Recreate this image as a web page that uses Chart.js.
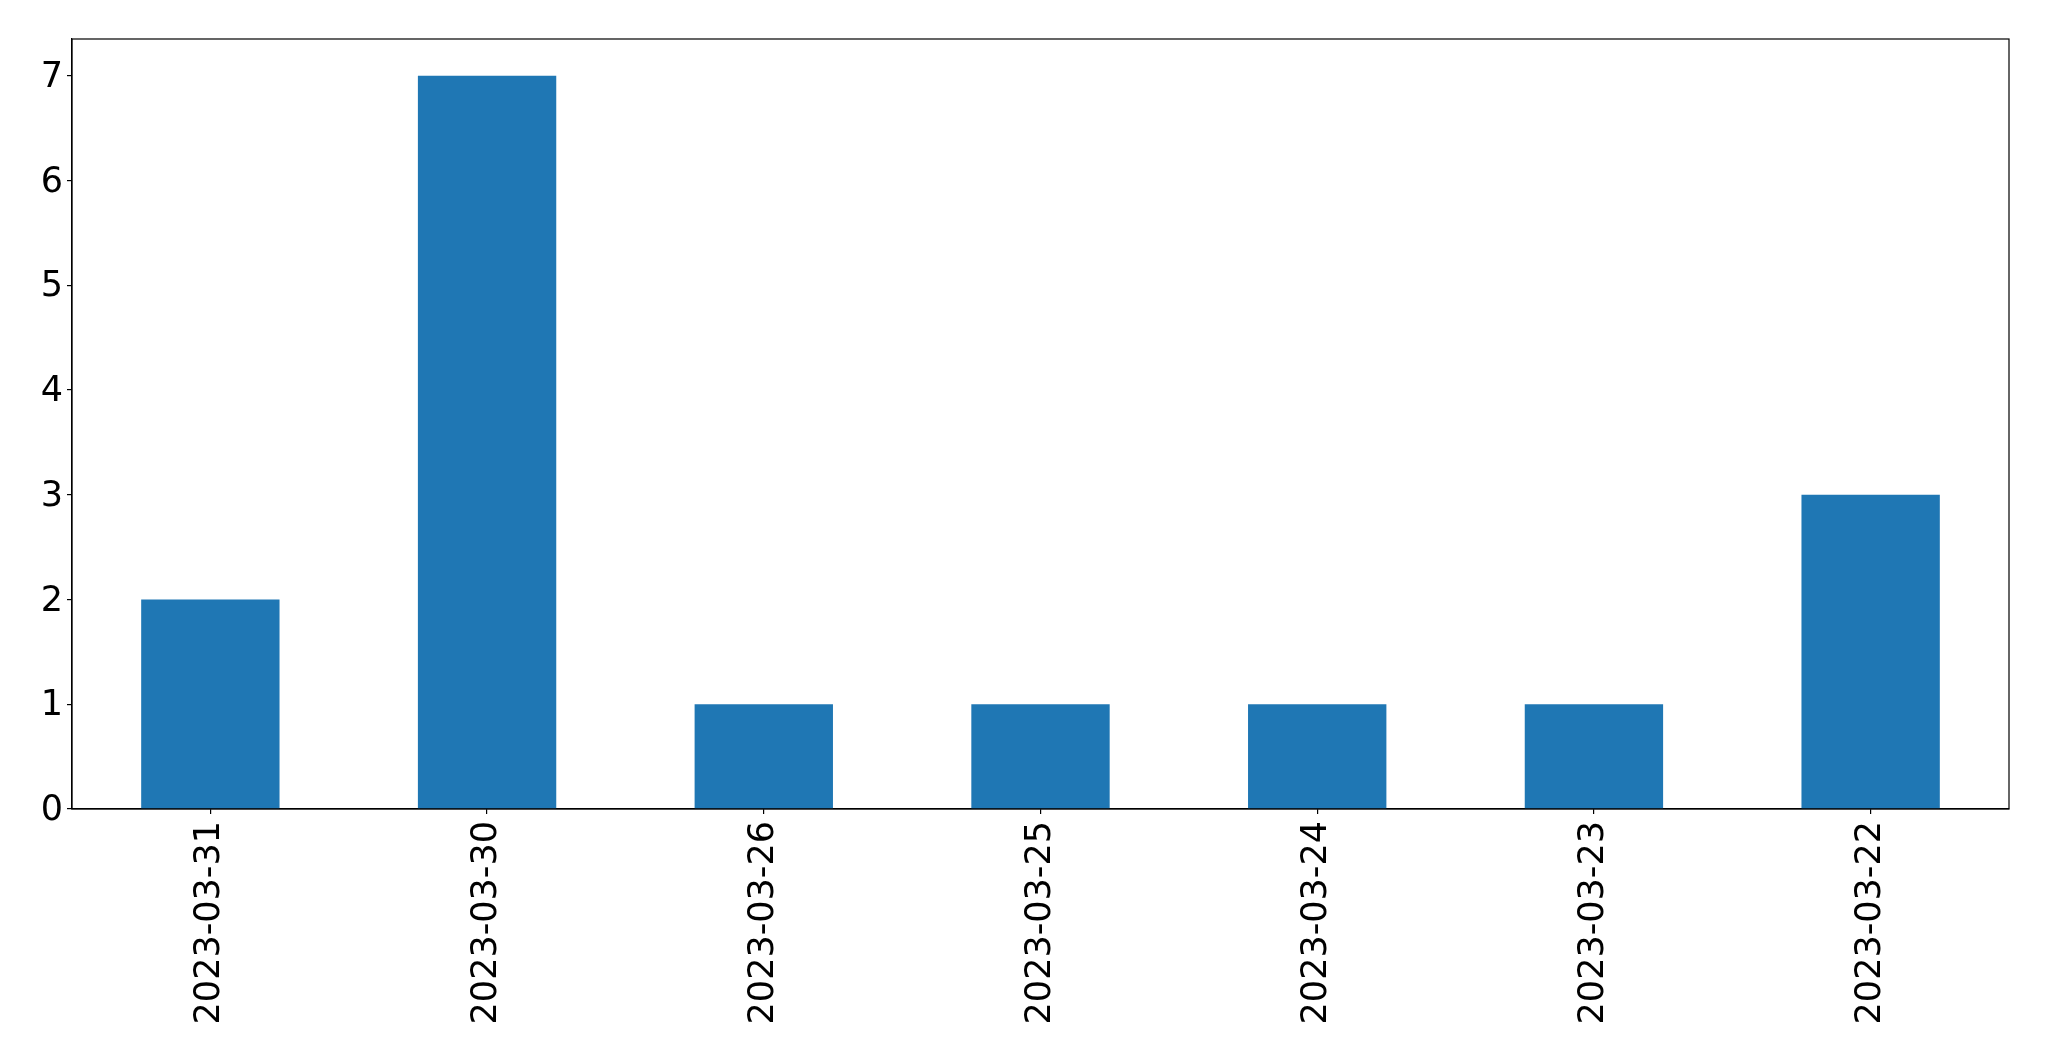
<!DOCTYPE html>
<html>
<head>
<meta charset="utf-8">
<script src="https://cdn.jsdelivr.net/npm/chart.js@4/dist/chart.umd.min.js"></script>
<style>
  html, body { margin: 0; padding: 0; background: #ffffff; }
  #wrap { width: 2049px; height: 1061px; }
</style>
</head>
<body>
<div id="wrap"><canvas id="c" width="2049" height="1061"></canvas></div>
<script>
const categories = ["2023-03-31", "2023-03-30", "2023-03-26", "2023-03-25", "2023-03-24", "2023-03-23", "2023-03-22"];
const counts = [2, 7, 1, 1, 1, 1, 3];
const yTicks = [0, 1, 2, 3, 4, 5, 6, 7];
const yMax = 7.35;

const framePlugin = {
  id: 'frame',
  afterDraw(chart) {
    const a = chart.chartArea, ctx = chart.ctx;
    ctx.save();
    ctx.strokeStyle = '#000000';
    ctx.lineWidth = 1.2;
    ctx.strokeRect(a.left, a.top, a.right - a.left, a.bottom - a.top);
    ctx.restore();
  }
};

new Chart(document.getElementById('c'), {
  type: 'bar',
  data: {
    labels: categories,
    datasets: [{
      data: counts,
      backgroundColor: '#1f77b4',
      borderWidth: 0,
      barPercentage: 0.5,
      categoryPercentage: 1.0
    }]
  },
  options: {
    responsive: false,
    animation: false,
    devicePixelRatio: 1,
    layout: { padding: { top: 39, right: 40, left: 0, bottom: 0 } },
    plugins: { legend: { display: false }, tooltip: { enabled: false } },
    scales: {
      x: {
        offset: true,
        grid: { display: true, offset: false, drawOnChartArea: false, drawTicks: true, tickLength: 5, color: '#000000', lineWidth: 1.2 },
        border: { display: true, color: '#000000', width: 1.2 },
        ticks: { color: '#000000', font: { family: 'DejaVu Sans', size: 35 }, minRotation: 90, maxRotation: 90, padding: 7, autoSkip: false },
        afterFit(scale) { scale.height = 252; }
      },
      y: {
        min: 0,
        max: yMax,
        grid: { display: true, drawOnChartArea: false, drawTicks: true, tickLength: 5, color: '#000000', lineWidth: 1.2 },
        border: { display: true, color: '#000000', width: 1.2 },
        ticks: { color: '#000000', font: { family: 'DejaVu Sans', size: 35 }, padding: 4, labelOffset: 2 },
        afterBuildTicks(scale) { scale.ticks = yTicks.map(v => ({ value: v })); },
        afterFit(scale) { scale.width = 72; }
      }
    }
  },
  plugins: [framePlugin]
});
</script>
</body>
</html>
